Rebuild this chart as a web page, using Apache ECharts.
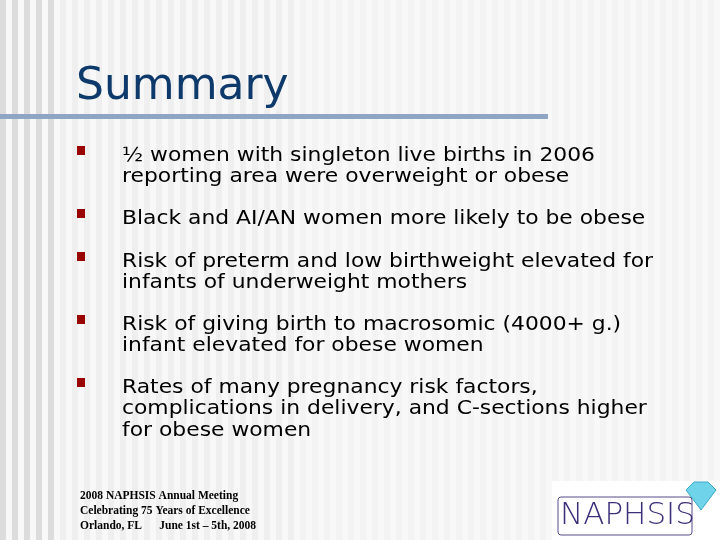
<!DOCTYPE html>
<html><head><meta charset="utf-8">
<script src="https://cdn.jsdelivr.net/npm/echarts@6/dist/echarts.min.js"></script>
<style>html,body{margin:0;padding:0;}#main{width:720px;height:540px;}</style>
</head><body>
<div id="main"></div>
<script>
var titleText = 'Summary';
var bullets = [
  ['½ women with singleton live births in 2006', 'reporting area were overweight or obese'],
  ['Black and AI/AN women more likely to be obese'],
  ['Risk of preterm and low birthweight elevated for', 'infants of underweight mothers'],
  ['Risk of giving birth to macrosomic (4000+ g.)', 'infant elevated for obese women'],
  ['Rates of many pregnancy risk factors,', 'complications in delivery, and C-sections higher', 'for obese women']
];
var bulletTops = [156, 219, 262, 325, 388];
var footer = ['2008 NAPHSIS Annual Meeting', 'Celebrating 75 Years of Excellence', 'Orlando, FL      June 1st – 5th, 2008'];

var chart = echarts.init(document.getElementById('main'));
var g = [];
// striped background
g.push({type:'rect', shape:{x:0,y:0,width:720,height:540}, style:{fill:'#f8f8f8'}, z:0});
for (var x = 0; x < 720; x += 12) {
  var c = x < 55 ? '#dcdcdc' : (x < 300 ? '#efefef' : '#f3f3f3');
  g.push({type:'rect', shape:{x:x,y:0,width:6,height:540}, style:{fill:c}, z:1});
}
g.push({type:'text', left:76, top:66, style:{text:titleText, font:'44px "DejaVu Sans"', fill:'#0d3a6b'}, z:5});
g.push({type:'rect', shape:{x:0,y:114,width:548,height:5}, style:{fill:'#8ea6c3'}, z:5});
bullets.forEach(function (lines, i) {
  var t = bulletTops[i];
  g.push({type:'rect', shape:{x:77,y:t-10,width:8,height:9}, style:{fill:'#990000'}, z:5});
  g.push({type:'text', x:122, y:t-11, scaleX:1.12, style:{text:lines.join('\n'), font:'19.5px "DejaVu Sans"', lineHeight:21.5, fill:'#000'}, z:5});
});
g.push({type:'text', left:80, top:489, style:{text:footer.join('\n'), font:'bold 11.5px "Liberation Serif"', lineHeight:15, fill:'#000'}, z:5});
// logo
g.push({type:'rect', shape:{x:552,y:481,width:168,height:59}, style:{fill:'#fff'}, z:5});
g.push({type:'rect', shape:{x:558,y:497,width:134,height:38,r:3}, style:{fill:'none', stroke:'#5a4a8a', lineWidth:1}, z:6});
g.push({type:'text', left:560, top:500, style:{text:'NAPHSIS', font:'200 31px "DejaVu Sans ExtraLight", "DejaVu Sans"', fill:'#3d2f7a'}, z:6});
g.push({type:'polygon', shape:{points:[[686,490],[694,482],[708,482],[716,490],[701,510]]}, style:{fill:'#6fd3ea', stroke:'#3aa7c8', lineWidth:1}, z:7});
chart.setOption({animation:false, graphic:g});
</script>
</body></html>
